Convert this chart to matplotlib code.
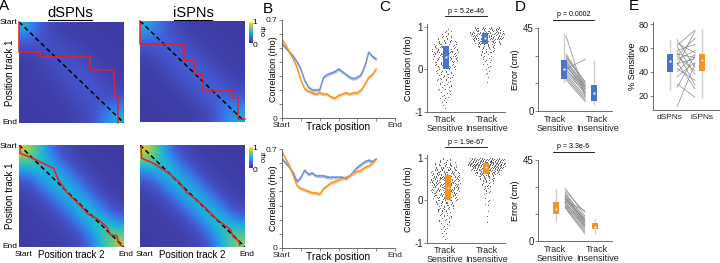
import numpy as np
import matplotlib
matplotlib.use("Agg")
import matplotlib.pyplot as plt
from matplotlib.colors import LinearSegmentedColormap, Normalize
from matplotlib.cm import ScalarMappable
from matplotlib.lines import Line2D

plt.rcParams['font.family'] = ['Liberation Sans', 'DejaVu Sans']

# ---------------- DATA ----------------
# Panel A: coarse correlation maps (rows: track 1 start->end, cols: track 2 start->end)
heat_d_top = [
    [0.50, 0.25, 0.10, 0.05, 0.04, 0.03, 0.03, 0.03],
    [0.25, 0.20, 0.15, 0.10, 0.06, 0.04, 0.03, 0.03],
    [0.08, 0.12, 0.18, 0.17, 0.12, 0.07, 0.04, 0.03],
    [0.04, 0.07, 0.12, 0.20, 0.18, 0.12, 0.06, 0.04],
    [0.03, 0.05, 0.08, 0.15, 0.22, 0.20, 0.10, 0.06],
    [0.03, 0.04, 0.06, 0.10, 0.18, 0.22, 0.15, 0.10],
    [0.03, 0.03, 0.04, 0.06, 0.12, 0.18, 0.25, 0.30],
    [0.03, 0.03, 0.03, 0.04, 0.08, 0.15, 0.35, 0.50]]
heat_i_top = [
    [0.50, 0.30, 0.15, 0.06, 0.04, 0.03, 0.03, 0.03],
    [0.30, 0.28, 0.22, 0.12, 0.06, 0.04, 0.03, 0.03],
    [0.12, 0.20, 0.25, 0.22, 0.12, 0.06, 0.04, 0.03],
    [0.05, 0.10, 0.20, 0.26, 0.22, 0.12, 0.06, 0.04],
    [0.04, 0.06, 0.12, 0.22, 0.26, 0.22, 0.12, 0.06],
    [0.03, 0.04, 0.06, 0.12, 0.22, 0.26, 0.22, 0.12],
    [0.03, 0.03, 0.04, 0.06, 0.12, 0.22, 0.30, 0.32],
    [0.03, 0.03, 0.03, 0.04, 0.06, 0.15, 0.35, 0.50]]
heat_d_bot = [
    [0.85, 0.60, 0.30, 0.12, 0.05, 0.03, 0.03, 0.03],
    [0.60, 0.60, 0.50, 0.25, 0.12, 0.05, 0.03, 0.03],
    [0.25, 0.45, 0.55, 0.48, 0.25, 0.10, 0.04, 0.03],
    [0.10, 0.22, 0.45, 0.55, 0.45, 0.22, 0.08, 0.04],
    [0.05, 0.10, 0.22, 0.45, 0.55, 0.45, 0.20, 0.08],
    [0.04, 0.06, 0.10, 0.22, 0.48, 0.58, 0.45, 0.22],
    [0.03, 0.04, 0.06, 0.10, 0.25, 0.50, 0.65, 0.55],
    [0.03, 0.03, 0.04, 0.06, 0.12, 0.30, 0.60, 0.80]]
heat_i_bot = [
    [0.90, 0.58, 0.25, 0.10, 0.05, 0.03, 0.03, 0.03],
    [0.58, 0.60, 0.48, 0.22, 0.10, 0.04, 0.03, 0.03],
    [0.25, 0.45, 0.55, 0.45, 0.22, 0.08, 0.04, 0.03],
    [0.10, 0.20, 0.45, 0.55, 0.45, 0.20, 0.08, 0.04],
    [0.05, 0.08, 0.20, 0.45, 0.55, 0.45, 0.20, 0.08],
    [0.04, 0.05, 0.08, 0.20, 0.45, 0.58, 0.45, 0.22],
    [0.03, 0.04, 0.05, 0.08, 0.22, 0.48, 0.62, 0.55],
    [0.03, 0.03, 0.04, 0.05, 0.10, 0.25, 0.58, 0.75]]

# decoded paths (track-2 fraction, track-1 fraction)
path_d_top_x = [0, 0, 0.2, 0.2, 0.68, 0.68, 0.9, 0.9, 0.91, 0.91, 0.94, 0.94]
path_d_top_y = [0, 0.3, 0.3, 0.35, 0.35, 0.475, 0.475, 0.62, 0.62, 0.74, 0.74, 1.0]
path_i_top_x = [0, 0, 0.42, 0.42, 0.51, 0.51, 0.59, 0.59, 0.6, 0.6, 0.89, 0.89, 0.93, 0.93, 1.0]
path_i_top_y = [0, 0.23, 0.23, 0.39, 0.39, 0.52, 0.52, 0.57, 0.57, 0.69, 0.69, 0.76, 0.76, 0.97, 0.97]
path_d_bot_x = [0.01, 0.01, 0.13, 0.23, 0.33, 0.37, 0.45, 0.58, 0.66, 0.74, 0.81, 0.84, 0.87, 0.93, 0.95, 0.98]
path_d_bot_y = [0.016, 0.08, 0.13, 0.18, 0.23, 0.33, 0.46, 0.59, 0.68, 0.72, 0.78, 0.81, 0.88, 0.89, 0.96, 0.99]
path_i_bot_x = [0.01, 0.016, 0.13, 0.25, 0.29, 0.38, 0.44, 0.54, 0.63, 0.70, 0.76, 0.86, 0.89, 0.94, 0.95]
path_i_bot_y = [0.016, 0.13, 0.18, 0.26, 0.29, 0.37, 0.46, 0.54, 0.62, 0.70, 0.75, 0.83, 0.90, 0.94, 0.98]

# Panel B: correlation vs track position
track_x = [0, 0.2, 0.4, 0.6, 0.8, 1.0, 1.2, 1.4, 1.6, 1.8, 2.0, 2.2, 2.4, 2.6, 2.8, 3.0,
           3.2, 3.4, 3.6, 3.8, 4.0, 4.2, 4.4, 4.6, 4.8, 5.0]
b_top_d = [.53, .50, .47, .44, .40, .35, .27, .22, .20, .20, .20, .29, .31, .32, .33, .35,
           .33, .31, .29, .28, .29, .31, .37, .47, .44, .42]
b_top_i = [.56, .52, .47, .42, .36, .27, .21, .19, .18, .17, .18, .17, .17, .15, .14, .16,
           .17, .18, .17, .18, .18, .20, .24, .29, .31, .35]
b_bot_d = [.63, .60, .57, .53, .47, .50, .55, .52, .53, .51, .51, .51, .50, .50, .50, .50,
           .50, .49, .51, .54, .57, .59, .61, .62, .61, .63]
b_bot_i = [.68, .63, .58, .51, .44, .42, .41, .40, .39, .39, .38, .42, .44, .46, .47, .48,
           .49, .50, .51, .53, .54, .55, .57, .58, .60, .63]
b_sem = 0.012

# Panel C: counts of cells per 0.1 rho bin
c_top_sens_lo = -0.9
c_top_sens = [2, 3, 4, 5, 6, 7, 8, 9, 11, 13, 16, 18, 20, 20, 18, 14, 9, 5, 2]
c_top_ins_lo = -0.3
c_top_ins = [1, 2, 2, 3, 4, 5, 7, 10, 16, 28, 40, 45, 30]
c_bot_sens_lo = -0.9
c_bot_sens = [2, 3, 4, 5, 7, 8, 10, 13, 17, 22, 26, 30, 33, 34, 33, 30, 25, 18, 8]
c_bot_ins_lo = -0.5
c_bot_ins = [1, 1, 1, 1, 2, 2, 3, 5, 8, 12, 20, 35, 60, 85, 70]
# box stats (q1, median, q3)
c_top_box = [(0.0, 0.30, 0.55), (0.60, 0.75, 0.85)]
c_bot_box = [(0.0, 0.30, 0.60), (0.62, 0.78, 0.88)]
c_pvals = ['p = 5.2e-46', 'p = 1.9e-67']

# Panel D: decoding error per session (sensitive -> insensitive)
d_top_sens = [41, 31, 30, 29, 28, 27, 26, 25.5, 25, 24, 23, 22, 21, 20, 19, 18, 17, 23]
d_top_ins = [8, 15, 14, 16, 13, 12, 14, 11, 10, 13, 9, 12, 10, 8, 7, 6, 5, 28]
d_bot_sens = [29.5, 28, 27, 26, 25.5, 25, 24, 23.5, 23, 22, 21.5, 21, 20, 19.5, 19, 18.5, 22, 24]
d_bot_ins = [14, 16, 12, 13, 11, 10, 12, 9, 10, 8, 9, 7, 8, 6, 5, 4, 17, 11]
# (whisker low, q1, median, q3, whisker high)
d_top_box = [(15.7, 17.6, 22.8, 27.8, 42.0), (4.0, 5.5, 9.8, 14.3, 27.0)]
d_bot_box = [(11.2, 15.0, 17.8, 21.6, 29.0), (4.7, 6.6, 7.9, 9.8, 12.2)]
d_pvals = ['p = 0.0002', 'p = 3.3e-6']

# Panel E: % sensitive per mouse
e_d = [67, 64, 62, 61, 58, 57, 55, 54, 53, 50, 48, 47, 45, 43, 40, 36, 30, 27, 11]
e_i = [44, 56, 75, 38, 63, 29, 52, 68, 41, 58, 26, 51, 74, 33, 55, 48, 19, 54, 47]
e_box = [(24.7, 40.1, 49.0, 54.9, 66.6), (19.0, 40.6, 50.4, 55.4, 75.5)]
e_labels = ['dSPNs', 'iSPNs']
group_labels = ['Track\nSensitive', 'Track\nInsensitive']

# ---------------- STYLE ----------------
BLUE = '#4a74c9'
BLUE_LINE = '#6e8fd6'
BLUE_BAND = '#b3c3ea'
ORANGE = '#f7941d'
ORANGE_BAND = '#fbc98c'
AXC = '#555555'
parula = LinearSegmentedColormap.from_list('parula_like', [
    (0.00, (0.24, 0.22, 0.62)),
    (0.20, (0.27, 0.33, 0.80)),
    (0.35, (0.20, 0.50, 0.92)),
    (0.50, (0.10, 0.70, 0.86)),
    (0.65, (0.30, 0.78, 0.58)),
    (0.80, (0.68, 0.80, 0.28)),
    (0.90, (0.93, 0.76, 0.25)),
    (1.00, (0.98, 0.96, 0.10))])

W, H = 720, 263
fig = plt.figure(figsize=(7.2, 2.63), dpi=100)


def add_ax(x0, y0, x1, y1):
    return fig.add_axes([x0 / W, 1 - y1 / H, (x1 - x0) / W, (y1 - y0) / H])


def ftext(x, y, s, **kw):
    fig.text(x / W, 1 - y / H, s, **kw)


def fline(x0, x1, y0, y1, **kw):
    fig.add_artist(Line2D([x0 / W, x1 / W], [1 - y0 / H, 1 - y1 / H],
                          transform=fig.transFigure, **kw))


def style_axes(ax):
    for s in ['top', 'right']:
        ax.spines[s].set_visible(False)
    for s in ['left', 'bottom']:
        ax.spines[s].set_color(AXC)
        ax.spines[s].set_linewidth(0.6)
    ax.tick_params(colors=AXC, labelcolor='#222222', width=0.5, length=2, labelsize=6, pad=1)


# ---------------- PANEL A ----------------
heat_specs = [
    (heat_d_top, path_d_top_x, path_d_top_y, (19, 22, 124, 123)),
    (heat_i_top, path_i_top_x, path_i_top_y, (140, 21, 245, 122)),
    (heat_d_bot, path_d_bot_x, path_d_bot_y, (19, 145, 124, 247)),
    (heat_i_bot, path_i_bot_x, path_i_bot_y, (140, 145, 245, 247)),
]
for grid, px, py, box in heat_specs:
    ax = add_ax(*box)
    ax.imshow(np.array(grid), cmap=parula, vmin=0, vmax=1, extent=[0, 1, 1, 0],
              interpolation='bicubic', aspect='auto')
    ax.plot([0, 1], [0, 1], color='k', ls=(0, (3, 2)), lw=1.1)
    ax.plot(px, py, color='#ee1c24', lw=1.1, clip_on=False)
    ax.set_xlim(0, 1)
    ax.set_ylim(1, 0)
    ax.set_xticks([])
    ax.set_yticks([])
    for s in ax.spines.values():
        s.set_visible(False)

for cb_y0, cb_y1 in [(22, 43), (147, 168)]:
    cax = add_ax(249, cb_y0, 253, cb_y1)
    cb = fig.colorbar(ScalarMappable(Normalize(0, 1), parula), cax=cax)
    cb.set_ticks([])
    cb.outline.set_visible(False)
    ftext(255, cb_y0 + 1, '1', fontsize=6, ha='center', va='center')
    ftext(255, cb_y1 + 3, '0', fontsize=6, ha='center', va='center')
    ftext(261, cb_y0 + 10, 'rho', fontsize=5.5, ha='center', va='center', rotation=-90)

ftext(4, 6, 'A', fontsize=11, ha='center', va='center')
ftext(70, 13, 'dSPNs', fontsize=10.5, ha='center', va='center')
fline(48, 92, 20, 20, color='k', lw=0.8)
ftext(193, 13, 'iSPNs', fontsize=10.5, ha='center', va='center')
fline(174, 212, 20, 20, color='k', lw=0.8)

for (y0, y1) in [(22, 123), (145, 247)]:
    ftext(17, y0 + 1, 'Start', fontsize=6, ha='right', va='center')
    ftext(17, y1 - 1, 'End', fontsize=6, ha='right', va='center')
    ftext(10, (y0 + y1) / 2, 'Position track 1', fontsize=7, ha='center', va='center', rotation=90)
for (x0, x1) in [(19, 124), (140, 245)]:
    ftext(x0 + 5, 255, 'Start', fontsize=6, ha='center', va='center')
    ftext((x0 + x1) / 2, 255, 'Position track 2', fontsize=7, ha='center', va='center')
    ftext(x1 + 2, 255, 'End', fontsize=6, ha='center', va='center')

# ---------------- PANEL B ----------------
ftext(268, 9, 'B', fontsize=11, ha='center', va='center')
for (y0, y1), yd, yi in [((20, 118), b_top_d, b_top_i), ((149, 248), b_bot_d, b_bot_i)]:
    ax = add_ax(282, y0, 395, y1)
    style_axes(ax)
    x = np.array(track_x)
    for ys, band, col in [(yd, BLUE_BAND, BLUE_LINE), (yi, ORANGE_BAND, ORANGE)]:
        ys = np.array(ys)
        ax.fill_between(x, ys - b_sem, ys + b_sem, color=band, lw=0)
        ax.plot(x, ys, color=col, lw=1.0)
    ax.set_xlim(0, 6)
    ax.set_ylim(0, 0.7)
    ax.set_xticks(range(7))
    ax.set_xticklabels(['Start', '', '', '', '', '', 'End'], fontsize=6)
    ax.set_yticks(np.linspace(0, 0.7, 8))
    ax.set_yticklabels(['0', '', '', '', '', '', '', '0.7'], fontsize=6)
    ax.set_ylabel('Correlation (rho)', fontsize=6.5)
    ax.yaxis.set_label_coords(-0.035, 0.5)
    ax.set_xlabel('Track position', fontsize=7.5, labelpad=-5)

# ---------------- PANEL C ----------------
ftext(385, 7, 'C', fontsize=11, ha='center', va='center')


def violin_dots(ax, center, counts, lo, max_half):
    maxc = max(counts)
    xs, ys = [], []
    for i, c in enumerate(counts):
        half = max(0.03, max_half * (c / maxc) ** 0.55)
        blo = lo + i * 0.1
        for k in range(c):
            xs.append(center - half + 2 * half * ((k * 0.7548776662 + 0.5 + 0.13 * i) % 1))
            ys.append(blo + 0.1 * ((k * 0.5698402910 + 0.31 * i) % 1))
    ax.scatter(xs, ys, s=0.6, color='#555555', lw=0, zorder=2)


c_specs = [((24, 112), c_top_sens, c_top_sens_lo, c_top_ins, c_top_ins_lo, c_top_box, BLUE, c_pvals[0],
            (1.02, 1.95)),
           ((155, 243), c_bot_sens, c_bot_sens_lo, c_bot_ins, c_bot_ins_lo, c_bot_box, ORANGE, c_pvals[1],
            (1.07, 1.98))]
for (y0, y1), sens, slo, ins, ilo, boxes, col, pv, bx in c_specs:
    ax = add_ax(427, y0, 505, y1)
    style_axes(ax)
    violin_dots(ax, 1.0, sens, slo, 0.32 if col == BLUE else 0.36)
    violin_dots(ax, 2.0, ins, ilo, 0.42 if col == BLUE else 0.46)
    for xc, (q1, med, q3) in zip(bx, boxes):
        ax.bar(xc, q3 - q1, bottom=q1, width=0.13, color=col, zorder=3, lw=0)
        ax.scatter([xc], [med], s=3, color='white', edgecolor='#999999', lw=0.3, zorder=4)
    ax.set_xlim(0.57, 2.43)
    ax.set_ylim(-1, 1.07)
    ax.set_yticks([-1, 0, 1])
    ax.set_yticklabels(['-1', '0', '1'], fontsize=7)
    ax.set_xticks([1, 2])
    ax.set_xticklabels(group_labels, fontsize=6.5, linespacing=1.0)
    ax.tick_params(axis='x', length=0, pad=2)
    ax.set_ylabel('Correlation (rho)', fontsize=6.5, labelpad=1)
    ax.plot([1.0, 2.0], [1.25, 1.25], color='k', lw=0.6, clip_on=False)
    ax.text(1.5, 1.29, pv, fontsize=5, ha='center', va='bottom', clip_on=False)

# ---------------- PANEL D ----------------
ftext(520, 7, 'D', fontsize=11, ha='center', va='center')
d_specs = [((28, 111), d_top_sens, d_top_ins, d_top_box, BLUE, d_pvals[0], (1.21, 1.93), (1.26, 1.72)),
           ((160, 241), d_bot_sens, d_bot_ins, d_bot_box, ORANGE, d_pvals[1], (1.02, 1.95), (1.24, 1.71))]
for (y0, y1), ls, rs, boxes, col, pv, bx, lx in d_specs:
    ax = add_ax(538, y0, 612, y1)
    style_axes(ax)
    for a, b in zip(ls, rs):
        ax.plot(lx, [a, b], color='#8a8a8a', lw=0.5)
    for xc, (wl, q1, med, q3, wh) in zip(bx, boxes):
        ax.plot([xc, xc], [wl, wh], color='#d0d0d0', lw=1.0, zorder=2)
        ax.bar(xc, q3 - q1, bottom=q1, width=0.13, color=col, zorder=3, lw=0)
        ax.scatter([xc], [med], s=3, color='white', edgecolor='#999999', lw=0.3, zorder=4)
    ax.set_xlim(0.595, 2.357)
    ax.set_ylim(0, 45)
    ax.set_yticks([0, 15, 30, 45])
    ax.set_yticklabels(['0', '', '', '45'], fontsize=7)
    ax.set_xticks([1, 2])
    ax.set_xticklabels(group_labels, fontsize=6.5, linespacing=1.0)
    ax.tick_params(axis='x', length=0, pad=3)
    ax.set_ylabel('Error (cm)', fontsize=6.5, labelpad=2)
    ax.plot([0.95, 1.93], [49.5, 49.5], color='k', lw=0.6, clip_on=False)
    ax.text(1.44, 50.5, pv, fontsize=5, ha='center', va='bottom', clip_on=False)

# ---------------- PANEL E ----------------
ftext(634, 6, 'E', fontsize=11, ha='center', va='center')
ax = add_ax(653, 22, 720, 110)
style_axes(ax)
for a, b in zip(e_d, e_i):
    ax.plot([1.22, 1.78], [a, b], color='#8a8a8a', lw=0.5)
for xc, (wl, q1, med, q3, wh), col in zip([1, 2], e_box, [BLUE, ORANGE]):
    ax.plot([xc, xc], [wl, wh], color='#d0d0d0', lw=1.0, zorder=2)
    ax.bar(xc, q3 - q1, bottom=q1, width=0.16, color=col, zorder=3, lw=0)
    ax.scatter([xc], [med], s=3, color='white', edgecolor='#999999', lw=0.3, zorder=4)
ax.set_xlim(0.47, 2.56)
ax.set_ylim(8.3, 81.7)
ax.set_yticks([20, 40, 60, 80])
ax.set_yticklabels(['20', '40', '60', '80'], fontsize=6.5)
ax.set_xticks([1, 2])
ax.set_xticklabels(e_labels, fontsize=6)
ax.tick_params(axis='x', length=0, pad=3)
ax.set_ylabel('% Sensitive', fontsize=6.5, labelpad=1)

fig.savefig('out.png', dpi=100)
